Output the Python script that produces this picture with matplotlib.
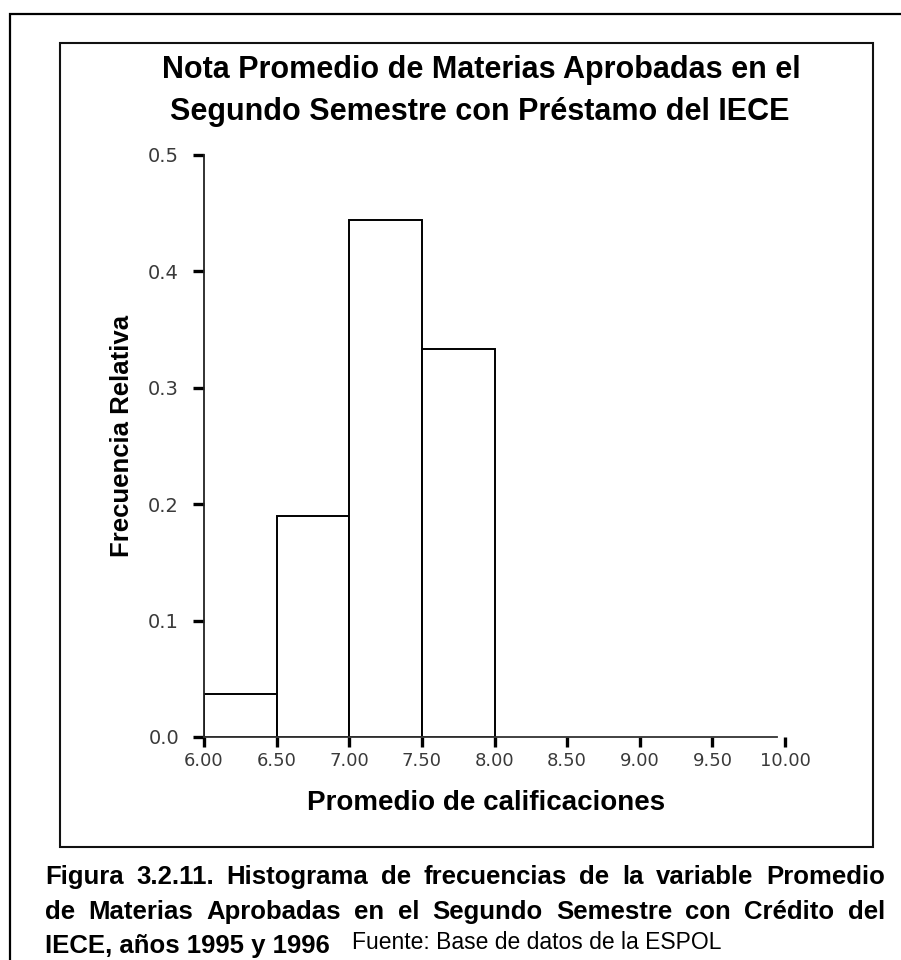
#!/usr/bin/env python3
"""Histogram of relative frequencies: average grade, second semester, IECE loan."""

import matplotlib

matplotlib.use("Agg")
import matplotlib.pyplot as plt
from matplotlib.patches import Rectangle

# bins of "Promedio de calificaciones" and their relative frequency
bin_left = [6.0, 6.5, 7.0, 7.5]
bin_width = 0.5
rel_freq = [0.037, 0.19, 0.444, 0.333]

x_ticks = [6.0, 6.5, 7.0, 7.5, 8.0, 8.5, 9.0, 9.5, 10.0]
y_ticks = [0.0, 0.1, 0.2, 0.3, 0.4, 0.5]

title_lines = [
    "Nota Promedio de Materias Aprobadas en el",
    "Segundo Semestre con Préstamo del IECE",
]
caption_lines = [
    "Figura 3.2.11. Histograma de frecuencias de la variable Promedio",
    "de Materias Aprobadas en el Segundo Semestre con Crédito del",
]
caption_last = "IECE, años 1995 y 1996"
source_text = "Fuente: Base de datos de la ESPOL"

W, H = 901, 960
FONT = "Liberation Sans"


def fx(px):
    return px / W


def fy(py):
    return 1 - py / H


def draw_justified(fig, text, left, right, y, **style):
    renderer = fig.canvas.get_renderer()
    words = text.split()
    items = [fig.text(0, y, w, ha="left", va="baseline", **style) for w in words]
    widths = [t.get_window_extent(renderer).width / fig.bbox.width for t in items]
    gap = (right - left - sum(widths)) / (len(words) - 1)
    x = left
    for t, w in zip(items, widths):
        t.set_x(x)
        x += w + gap


fig = plt.figure(figsize=(W / 100, H / 100), dpi=100)

# frames
fig.add_artist(Rectangle((fx(10), fy(975)), fx(910) - fx(10), fy(14) - fy(975),
                         transform=fig.transFigure, fill=False, edgecolor="black", linewidth=1.6))
fig.add_artist(Rectangle((fx(60), fy(847)), fx(873) - fx(60), fy(43) - fy(847),
                         transform=fig.transFigure, fill=False, edgecolor="#111111", linewidth=1.5))

ax = fig.add_axes([fx(204), fy(737), fx(785) - fx(204), fy(155) - fy(737)])
ax.bar(bin_left, rel_freq, width=bin_width, align="edge",
       facecolor="white", edgecolor="black", linewidth=1.4)

ax.set_xlim(6.0, 10.0)
ax.set_ylim(0.0, 0.5)
ax.set_xticks(x_ticks)
ax.set_xticklabels([f"{v:.2f}" for v in x_ticks])
ax.set_yticks(y_ticks)
ax.set_yticklabels([f"{v:.1f}" for v in y_ticks])

for side in ["top", "right"]:
    ax.spines[side].set_visible(False)
ax.spines["left"].set_linewidth(1.3)
ax.spines["bottom"].set_linewidth(1.3)
ax.spines["left"].set_color("#222222")
ax.spines["bottom"].set_color("#333333")
ax.spines["bottom"].set_bounds(6.0, 9.945)

ax.tick_params(axis="y", direction="out", length=8, width=2.4, pad=10,
               labelsize=14, labelcolor="#3a3a3a", color="black")
ax.tick_params(axis="x", direction="out", length=7, width=2.4, pad=4,
               labelsize=13, labelcolor="#3a3a3a", color="black")
for label in ax.get_xticklabels() + ax.get_yticklabels():
    label.set_family("DejaVu Sans")

fig.text(fx(486), fy(803), "Promedio de calificaciones", ha="center", va="center",
         fontsize=20, fontweight="bold", family=FONT)
fig.text(fx(122), fy(436), "Frecuencia Relativa", rotation=90, ha="center", va="center",
         fontsize=18.5, fontweight="bold", family=FONT)

fig.text(fx(481), fy(70), title_lines[0], ha="center", va="center",
         fontsize=22, fontweight="bold", family=FONT)
fig.text(fx(480), fy(112), title_lines[1], ha="center", va="center",
         fontsize=22, fontweight="bold", family=FONT)

cap_style = {"fontsize": 18.5, "fontweight": "bold", "family": FONT}
draw_justified(fig, caption_lines[0], fx(45), fx(885), fy(884), **cap_style)
draw_justified(fig, caption_lines[1], fx(45), fx(885), fy(919), **cap_style)
fig.text(fx(45), fy(953), caption_last, ha="left", va="baseline", **cap_style)
fig.text(fx(352), fy(949), source_text, ha="left", va="baseline", fontsize=16.5, family=FONT)

fig.savefig("out.png", dpi=100, facecolor="white")
